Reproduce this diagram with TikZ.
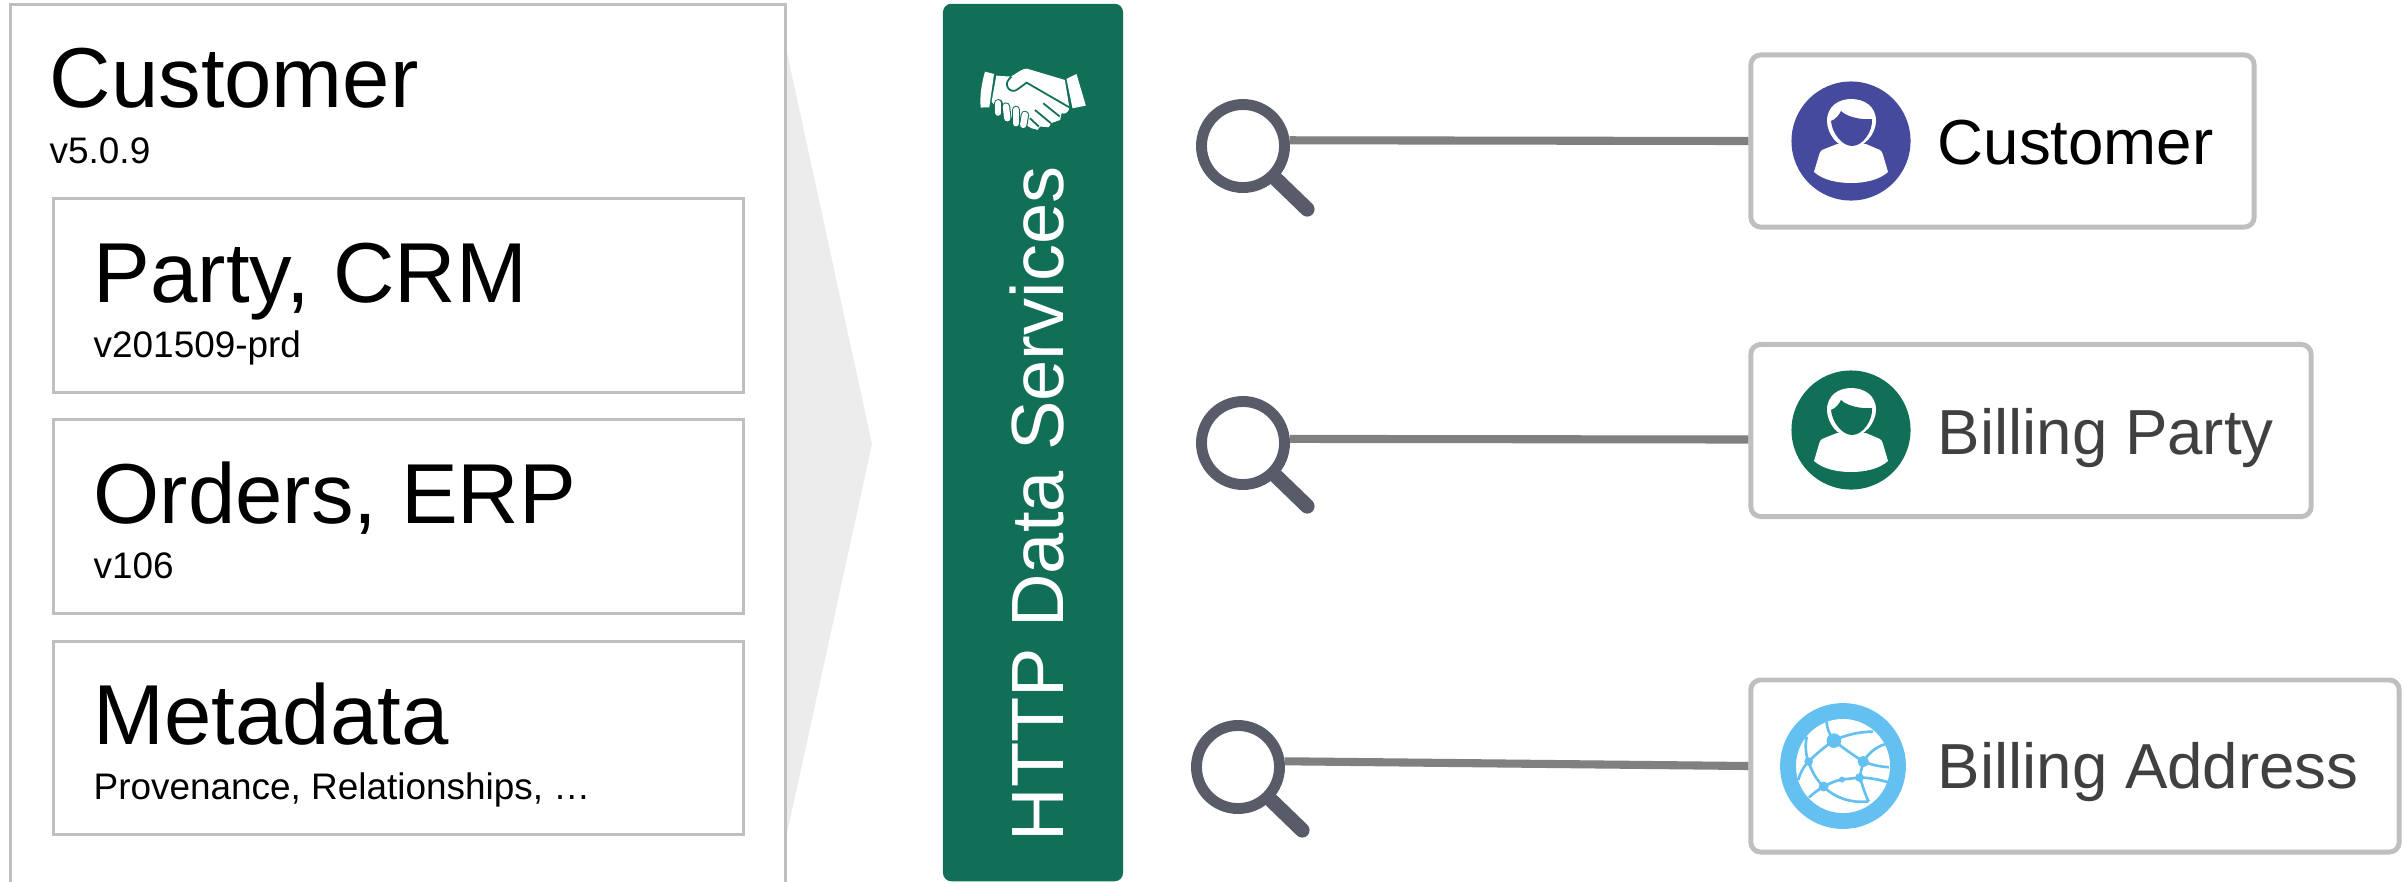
\documentclass[tikz,border=0pt]{standalone}
\usepackage{fontspec}
\setmainfont{Liberation Sans}
\usetikzlibrary{calc}
\definecolor{boxgray}{HTML}{BFBFBF}
\definecolor{arrowgray}{HTML}{ECECEC}
\definecolor{linkgray}{HTML}{808080}
\definecolor{lensgray}{HTML}{585C68}
\definecolor{bargreen}{HTML}{116F57}
\definecolor{custblue}{HTML}{454A9C}
\definecolor{globeblue}{HTML}{64C0F0}
\definecolor{labelgray}{HTML}{404040}
\tikzset{
  sourcebox/.style={draw=boxgray,line width=0.85pt,fill=white,inner sep=0pt,minimum width=6.89cm,minimum height=1.93cm},
  servicebox/.style={draw=boxgray,line width=1.4pt,fill=white,inner sep=0pt,rounded corners=2.8pt,minimum height=1.72cm},
  bigtext/.style={anchor=base west,inner sep=0pt,font=\fontsize{24.2}{29}\selectfont},
  smalltext/.style={anchor=base west,inner sep=0pt,font=\fontsize{10.5}{13}\selectfont},
  servicetext/.style={anchor=base west,inner sep=0pt,font=\fontsize{18.1}{21}\selectfont},
  lensring/.style={circle,draw=lensgray,line width=3.1pt,inner sep=0pt,minimum size=0.83cm},
  lenshandle/.style={lensgray,line width=4.2pt,line cap=round},
  linkline/.style={linkgray,line width=2.3pt},
  iconcircle/.style={circle,inner sep=0pt,minimum size=1.19cm},
  pics/personicon/.style={code={
    \fill[white] (-14,3) -- (-29,9) .. controls (-31,10) and (-31,12) .. (-32,14) -- (-37,31)
      .. controls (-28,39) and (-14,42) .. (0,42) .. controls (14,42) and (28,39) .. (37,31)
      -- (32,14) .. controls (31,12) and (31,10) .. (29,9) -- (15,3) -- cycle;
    \fill[white] (-24,-20) .. controls (-24,-35) and (-12,-42) .. (0,-42) .. controls (13,-42) and (25,-35) .. (25,-20)
      .. controls (25,-8) and (14,7) .. (0,7) .. controls (-14,7) and (-24,-8) .. (-24,-20) -- cycle;
    \fill[#1] (-10,-30) .. controls (-4,-24) and (10,-21) .. (21,-22) .. controls (22,-10) and (12,5) .. (1,5)
      .. controls (-9,5) and (-19,-8) .. (-20,-20) .. controls (-15,-22) and (-12,-26) .. (-10,-30) -- cycle;
  }}
}

\begin{document}
\begin{tikzpicture}[x=0.01cm,y=-0.01cm]
  \useasboundingbox (0,0) rectangle (2402,881);
  \clip (0,0) rectangle (2402,881);
  \fill[arrowgray] (786,48) -- (872,444) -- (786,838) -- cycle;
  \node[draw=boxgray,line width=0.85pt,inner sep=0pt,minimum width=7.74cm,minimum height=9.2cm] (outerbox) at (398,465) {};
  \node[bigtext] (outertitle) at (49,107) {Customer};
  \node[smalltext] (outerversion) at (49,163) {v5.0.9};
  \node[sourcebox] (partybox) at (398.5,295.5) {};
  \node[bigtext] (partytitle) at (93,302) {Party, CRM};
  \node[smalltext] (partyversion) at (93,357) {v201509-prd};
  \node[sourcebox] (ordersbox) at (398.5,516.5) {};
  \node[bigtext] (orderstitle) at (93,523) {Orders, ERP};
  \node[smalltext] (ordersversion) at (93,578) {v106};
  \node[sourcebox] (metabox) at (398.5,738) {};
  \node[bigtext] (metatitle) at (93,744) {Metadata};
  \node[smalltext] (metanote) at (93,799) {Provenance, Relationships, \dots};

  \node[fill=bargreen,rounded corners=2.4pt,inner sep=0pt,minimum width=1.8cm,minimum height=8.77cm] (servicebar) at (1033,442.5) {};
  \node[anchor=base west,rotate=90,inner sep=0pt,white,font=\fontsize{21.05}{25}\selectfont] (servicelabel) at (1063,842) {HTTP Data Services};
  \begin{scope}[shift={(975,60)},x=0.00333cm,y=-0.00333cm]
    \fill[white] (30,35) -- (57,42) -- (43,142) -- (17,143) .. controls (14,105) and (20,70) .. (30,35) -- cycle;
    \fill[white] (275,57) -- (305,42) -- (333,137) -- (293,145) -- cycle;
    \fill[white] (64,47) -- (108,50) .. controls (130,36) and (145,25) .. (156,26) -- (270,60) -- (283,140)
      .. controls (285,155) and (270,165) .. (260,160) -- (256,180) -- (228,190) -- (222,202) -- (195,200) -- (188,210)
      -- (170,205) -- (70,150) -- (50,125) -- cycle;
    \draw[bargreen,line width=0.5pt,line join=round,fill=white] (110,50) .. controls (98,60) and (92,70) .. (98,82)
      .. controls (104,94) and (118,96) .. (128,88) -- (155,68) -- (283,142);
    \draw[bargreen,line width=0.5pt] (205,130) -- (255,170) (180,150) -- (228,190) (165,175) -- (192,200);
    \foreach \a/\b/\c/\d in {70/130/70/158,93/140/97/175,123/150/123/190,150/165/145/195}{
      \draw[bargreen,line width=2.4pt,line cap=round] (\a,\b) -- (\c,\d);
      \draw[white,line width=1.8pt,line cap=round] (\a,\b) -- (\c,\d);
    }
  \end{scope}

  \foreach \n/\x/\y in {lensa/1243/146,lensb/1243/443,lensc/1238/767}{
    \node[lensring] (\n) at (\x,\y) {};
    \draw[lenshandle] (\n.-45) -- ++(31,30);
  }
  \node[servicebox,minimum width=5.03cm] (custbox) at (2002.5,141) {};
  \node[servicebox,minimum width=5.6cm] (billbox) at (2031,430.5) {};
  \node[servicebox,minimum width=6.48cm] (addrbox) at (2075,766) {};
  \draw[linkline] (lensa.7) -- (custbox.west);
  \draw[linkline] (lensb.5) -- ($(billbox.west)+(0,9)$);
  \draw[linkline] (lensc.7) -- (addrbox.west);

  \node[iconcircle,fill=custblue] (custicon) at (1851,141) {};
  \pic at (custicon) {personicon=custblue};
  \node[servicetext] (custlabel) at (1937,164) {Customer};
  \node[iconcircle,fill=bargreen] (billicon) at (1851,430) {};
  \pic at (billicon) {personicon=bargreen};
  \node[servicetext,labelgray] (billlabel) at (1937,454) {Billing Party};
  \node[circle,draw=globeblue,line width=4.5pt,fill=white,inner sep=0pt,minimum size=1.10cm] (addricon) at (1843,766) {};
  \begin{scope}[shift={(1785,705)},x=0.00333cm,y=-0.00333cm]
    \draw[globeblue,line width=0.75pt] (125,50) .. controls (125,70) and (135,90) .. (147,107)
      (147,107) .. controls (180,90) and (225,80) .. (265,80)
      (147,107) .. controls (175,130) and (205,150) .. (235,170)
      (147,107) .. controls (120,125) and (95,145) .. (71,170)
      (65,95) .. controls (60,125) and (62,150) .. (71,170)
      (71,170) .. controls (55,185) and (45,205) .. (40,225)
      (71,170) .. controls (80,200) and (95,225) .. (116,245)
      (116,245) .. controls (100,255) and (85,265) .. (72,278)
      (116,245) .. controls (150,280) and (200,295) .. (250,290)
      (116,245) .. controls (135,235) and (150,228) .. (171,224) .. controls (190,222) and (205,220) .. (224,218)
      (224,218) .. controls (255,218) and (285,225) .. (310,232)
      (224,218) .. controls (235,245) and (240,270) .. (252,290)
      (235,170) -- (224,218)
      (235,170) .. controls (250,145) and (275,125) .. (300,118)
      (235,170) .. controls (260,180) and (285,185) .. (312,187);
    \foreach \a/\b/\r in {147/107/22,71/170/13,235/170/17,116/245/15,224/218/13,171/224/9}{
      \fill[globeblue] (\a,\b) circle (\r);
    }
  \end{scope}
  \node[servicetext,labelgray] (addrlabel) at (1937,788) {Billing Address};
\end{tikzpicture}
\end{document}
